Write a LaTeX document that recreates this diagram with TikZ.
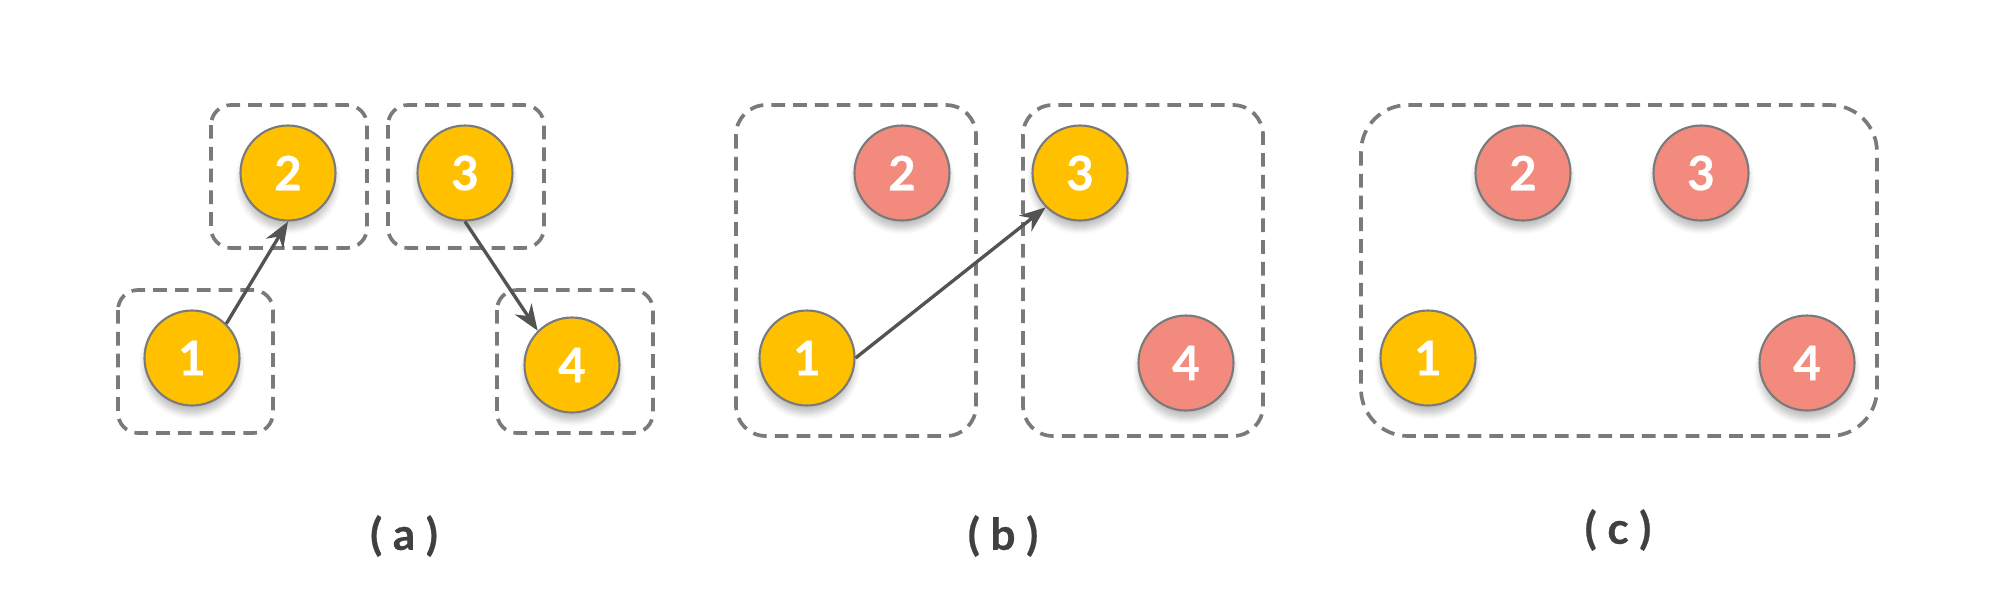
\documentclass[tikz,border=0pt]{standalone}
\usepackage{fontspec}
\setsansfont{Lato}[BoldFeatures={FakeBold=0.6}]
\usetikzlibrary{shadows.blur,arrows.meta}
\definecolor{gold}{HTML}{FFC000}
\definecolor{salmon}{HTML}{F28B7E}
\definecolor{rim}{HTML}{7A7A7A}
\definecolor{ink}{HTML}{404040}

\begin{document}
\begin{tikzpicture}
\tikzstyle{vertex} = [circle, draw=rim, line width=0.6pt, minimum size=0.95cm, inner sep=0pt,
  font=\sffamily\bfseries\fontsize{13.5}{13.5}\selectfont, text=white,
  blur shadow={shadow xshift=0pt, shadow yshift=-0.8mm, shadow blur steps=6, shadow opacity=25}]
\tikzstyle{active} = [vertex, fill=gold]
\tikzstyle{idle} = [vertex, fill=salmon]
\tikzstyle{group} = [draw=rim, line width=1.05pt, dash pattern=on 3.9pt off 2.3pt]
\tikzstyle{edge} = [draw=ink!90, line width=0.95pt, -{Stealth[length=2.6mm, width=2mm]}]
\tikzstyle{caption} = [font=\sffamily\bfseries\fontsize{12.5}{12.5}\selectfont, text=ink]

\useasboundingbox (0,0) rectangle (20,6.08);

% (a)
\draw [group, rounded corners=0.2cm] (2.11,5.03) rectangle (3.67,3.60);
\draw [group, rounded corners=0.2cm] (3.88,5.03) rectangle (5.44,3.60);
\draw [group, rounded corners=0.2cm] (1.18,3.18) rectangle (2.73,1.75);
\draw [group, rounded corners=0.2cm] (4.97,3.18) rectangle (6.53,1.75);
\node [active] (a1) at (1.92, 2.50) {1};
\node [active] (a2) at (2.88, 4.35) {2};
\node [active] (a3) at (4.65, 4.35) {3};
\node [active] (a4) at (5.72, 2.43) {4};
\draw [edge] (a1.45) -- (a2.south);
\draw [edge] (a3.south) -- (a4.135);
\node [caption] (capa) at (4.04, 0.72) {( a )};

% (b)
\draw [group, rounded corners=0.3cm] (7.36,5.03) rectangle (9.76,1.72);
\draw [group, rounded corners=0.3cm] (10.23,5.03) rectangle (12.63,1.72);
\node [active] (b1) at (8.07, 2.50) {1};
\node [idle] (b2) at (9.02, 4.35) {2};
\node [active] (b3) at (10.80, 4.35) {3};
\node [idle] (b4) at (11.86, 2.45) {4};
\draw [edge] (b1.east) -- (b3.225);
\node [caption] (capb) at (10.03, 0.72) {( b )};

% (c)
\draw [group, rounded corners=0.47cm] (13.61,5.03) rectangle (18.77,1.72);
\node [active] (c1) at (14.28, 2.50) {1};
\node [idle] (c2) at (15.23, 4.35) {2};
\node [idle] (c3) at (17.01, 4.35) {3};
\node [idle] (c4) at (18.07, 2.45) {4};
\node [caption] (capc) at (16.18, 0.78) {( c )};
\end{tikzpicture}
\end{document}
